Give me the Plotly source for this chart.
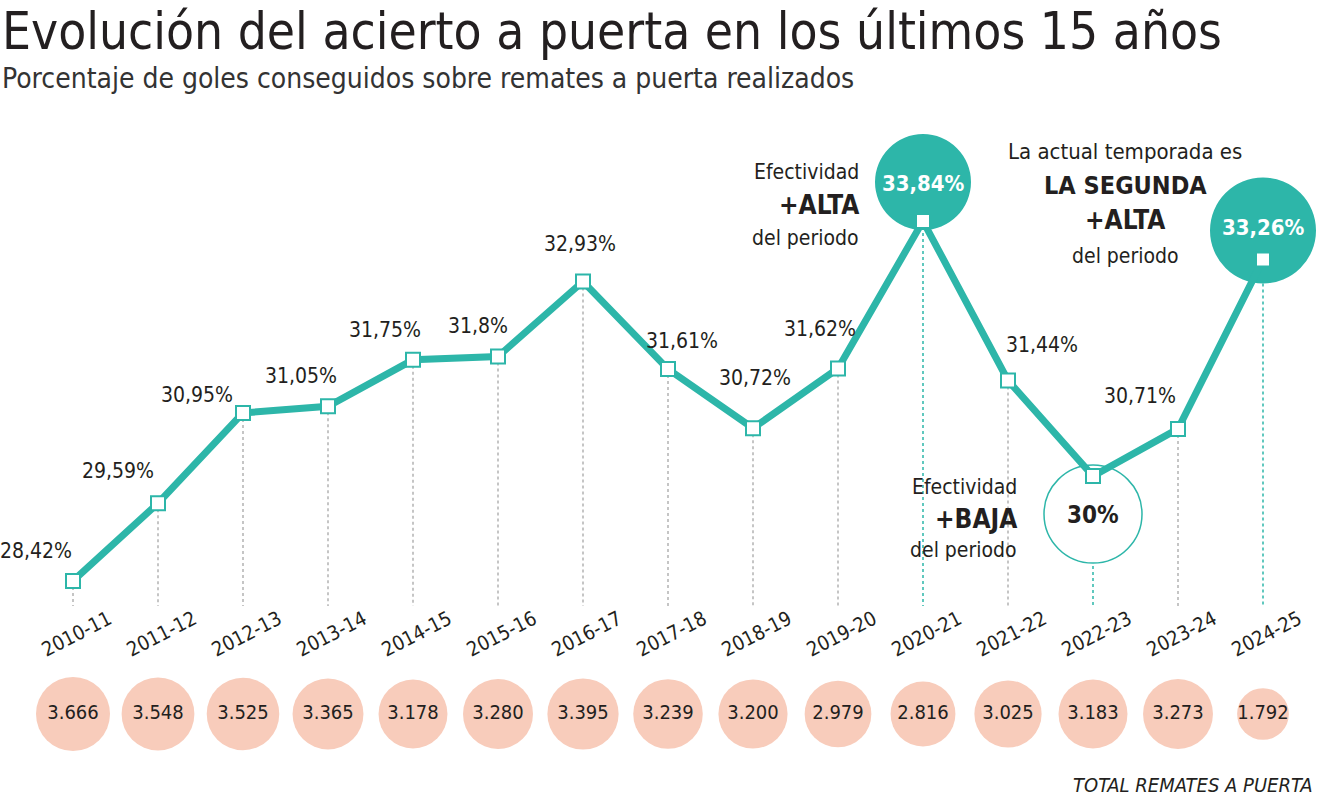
import plotly.graph_objects as go

# ---------------- data ----------------
seasons = ["2010-11", "2011-12", "2012-13", "2013-14", "2014-15", "2015-16", "2016-17",
           "2017-18", "2018-19", "2019-20", "2020-21", "2021-22", "2022-23", "2023-24", "2024-25"]
acierto = [28.42, 29.59, 30.95, 31.05, 31.75, 31.8, 32.93, 31.61, 30.72, 31.62, 33.84,
           31.44, 30.0, 30.71, 33.26]
remates = [3666, 3548, 3525, 3365, 3178, 3280, 3395, 3239, 3200, 2979, 2816, 3025, 3183,
           3273, 1792]
season_alta = "2020-21"
season_baja = "2022-23"
season_actual = "2024-25"

title = "Evolución del acierto a puerta en los últimos 15 años"
subtitle = "Porcentaje de goles conseguidos sobre remates a puerta realizados"
footer = "TOTAL REMATES A PUERTA"

# ---------------- style ----------------
W, H = 1320, 798
TEAL = "#2db6a9"
SALMON = "#f8ccbb"
INK = "#231f20"
GRAY = "#b3b3b3"
FONT = "Liberation Sans Narrow, DejaVu Sans Condensed, Roboto, sans-serif"

Y_MIN, Y_MAX = 25.15, 37.17
X_MIN, X_MAX = -73 / 85, (W - 73) / 85


def y_at_px(py):
    return Y_MAX - py * (Y_MAX - Y_MIN) / H


def fmt_pct(v):
    return f"{v:g}".replace(".", ",") + "%"


def fmt_int(n):
    return f"{n:,}".replace(",", ".")


x = list(range(len(seasons)))
i_max = seasons.index(season_alta)
i_min = seasons.index(season_baja)
i_last = seasons.index(season_actual)
special = {i_max, i_min, i_last}

fig = go.Figure()

# dotted guide lines
base_y = y_at_px(606)
shapes = []
for i, v in enumerate(acierto):
    col = TEAL if i in special else GRAY
    shapes.append(dict(type="line", xref="x", yref="y", x0=i, x1=i, y0=v, y1=base_y,
                       line=dict(color=col, width=1.5, dash="3px,3px"), layer="below"))

# highlight circles (pixel-sized, anchored on data points)
def circ(i, dy, r, fill, line_col, lw):
    return dict(type="circle", xref="x", yref="y", xsizemode="pixel", ysizemode="pixel",
                xanchor=i, yanchor=acierto[i], x0=-r, x1=r, y0=dy - r, y1=dy + r,
                fillcolor=fill, line=dict(color=line_col, width=lw), layer="below")

shapes.append(circ(i_max, 39, 48, TEAL, TEAL, 0))
shapes.append(circ(i_last, 29, 53, TEAL, TEAL, 0))
shapes.append(circ(i_min, -38, 49, "white", TEAL, 1.5))

# main line
fig.add_trace(go.Scatter(
    x=x, y=acierto, mode="lines+markers",
    line=dict(color=TEAL, width=7),
    marker=dict(symbol="square", size=14, color="white", line=dict(color=TEAL, width=2)),
    hoverinfo="skip", showlegend=False))

# bottom bubbles (area proportional to total shots)
ref = max(remates)
fig.add_trace(go.Scatter(
    x=x, y=[y_at_px(714)] * len(x), mode="markers+text",
    marker=dict(size=[74 * (r / ref) ** 0.5 for r in remates], color=SALMON, opacity=1,
                line=dict(width=0)),
    text=[fmt_int(r) for r in remates], textposition="middle center",
    textfont=dict(family=FONT, size=20, color=INK),
    hoverinfo="skip", showlegend=False))

ann = []
# value labels offsets (px) for regular points
offsets = {0: (-37, 30), 1: (-40, 32), 2: (-46, 18), 3: (-27, 30), 4: (-28, 30), 5: (-20, 31),
           6: (-3, 37), 7: (14, 28), 8: (2, 50), 9: (-18, 39), 11: (34, 35), 13: (-38, 33)}
for i, v in enumerate(acierto):
    if i in offsets:
        dx, dy = offsets[i]
        ann.append(dict(x=i, y=v, xref="x", yref="y", text=fmt_pct(v), showarrow=False,
                        xshift=dx, yshift=dy, font=dict(family=FONT, size=21, color=INK)))

# circle labels
ann.append(dict(x=i_max, y=acierto[i_max], xref="x", yref="y", text="<b>" + fmt_pct(acierto[i_max]) + "</b>",
                showarrow=False, yshift=38, font=dict(family=FONT, size=22, color="white")))
ann.append(dict(x=i_last, y=acierto[i_last], xref="x", yref="y", text="<b>" + fmt_pct(acierto[i_last]) + "</b>",
                showarrow=False, yshift=32, font=dict(family=FONT, size=22, color="white")))
ann.append(dict(x=i_min, y=acierto[i_min], xref="x", yref="y", text="<b>" + fmt_pct(acierto[i_min]) + "</b>",
                showarrow=False, yshift=-39, font=dict(family=FONT, size=24, color=INK)))

# side notes
def note(i, text, dx, dy, size, bold=False, xanchor="right"):
    t = "<b>" + text + "</b>" if bold else text
    ann.append(dict(x=i, y=acierto[i], xref="x", yref="y", text=t, showarrow=False,
                    xanchor=xanchor, xshift=dx, yshift=dy, font=dict(family=FONT, size=size, color=INK)))

note(i_max, "Efectividad", -62, 49, 21)
note(i_max, "+ALTA", -62, 16, 26, True)
note(i_max, "del periodo", -62, -17, 21)

note(i_last, "La actual temporada es", -138, 108, 22, xanchor="center")
note(i_last, "LA SEGUNDA", -138, 74, 25, True, xanchor="center")
note(i_last, "+ALTA", -138, 40, 26, True, xanchor="center")
note(i_last, "del periodo", -138, 4, 21, xanchor="center")

note(i_min, "Efectividad", -74, -11, 21)
note(i_min, "+BAJA", -74, -43, 26, True)
note(i_min, "del periodo", -74, -74, 21)

# season labels (rotated)
for i, s in enumerate(seasons):
    ann.append(dict(x=i, y=y_at_px(634), xref="x", yref="y", text=s, showarrow=False,
                    textangle=-27, xshift=3, font=dict(family=FONT, size=20, color=INK)))

# titles and footer
ann.append(dict(x=0, y=1, xref="paper", yref="paper", xanchor="left", yanchor="top",
                text=title, showarrow=False, xshift=0, yshift=0,
                font=dict(family=FONT, size=51, color=INK)))
ann.append(dict(x=0, y=1, xref="paper", yref="paper", xanchor="left", yanchor="top",
                text=subtitle, showarrow=False, xshift=0, yshift=-60,
                font=dict(family=FONT, size=28, color="#333333")))
ann.append(dict(x=1, y=0, xref="paper", yref="paper", xanchor="right", yanchor="bottom",
                text="<i>" + footer + "</i>", showarrow=False, xshift=-6, yshift=-1,
                font=dict(family=FONT, size=20, color=INK)))

fig.update_layout(
    width=W, height=H, margin=dict(l=0, r=0, t=0, b=0),
    paper_bgcolor="white", plot_bgcolor="white",
    xaxis=dict(range=[X_MIN, X_MAX], visible=False, fixedrange=True),
    yaxis=dict(range=[Y_MIN, Y_MAX], visible=False, fixedrange=True),
    shapes=shapes, annotations=ann, showlegend=False,
)

fig.write_html("out.html", config={"displayModeBar": False},
               post_script="document.body.style.margin='0';")
